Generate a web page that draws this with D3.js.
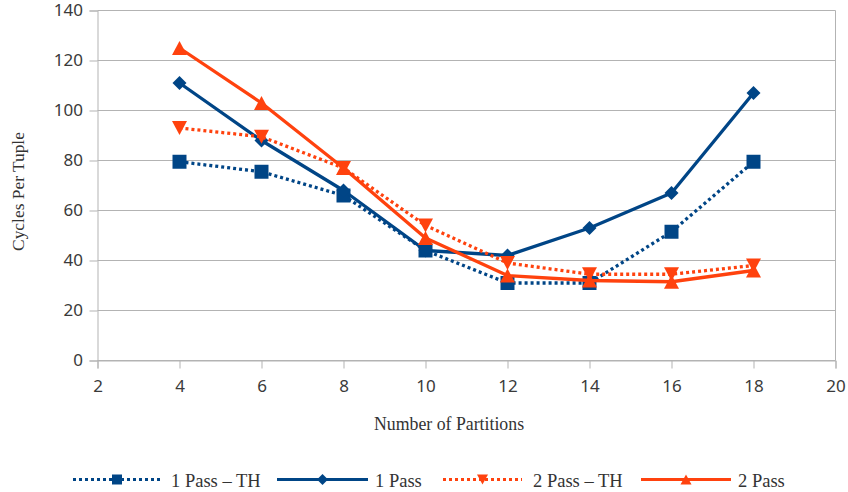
<!DOCTYPE html>
<html>
<head>
<meta charset="utf-8">
<script src="https://cdn.jsdelivr.net/npm/d3@7"></script>
<style>
  html, body { margin: 0; padding: 0; background: #fff; }
  svg { display: block; }
</style>
</head>
<body>
<svg id="chart" width="848" height="492"></svg>
<script>
// Partition counts on the x axis
const partitions = [4, 6, 8, 10, 12, 14, 16, 18];

// Cycles per tuple for each configuration
const onePassTH = [79.5, 75.5, 66, 44, 31, 31, 51.5, 79.5];
const onePass   = [111, 88, 68, 44, 42, 53, 67, 107];
const twoPassTH = [93, 89.5, 77, 54, 39, 34.5, 34.5, 38];
const twoPass   = [125, 103, 77, 49, 34, 32, 31.5, 36];

const xTicks = [2, 4, 6, 8, 10, 12, 14, 16, 18, 20];
const yTicks = [0, 20, 40, 60, 80, 100, 120, 140];

const seriesNames = ["1 Pass – TH", "1 Pass", "2 Pass – TH", "2 Pass"];

const BLUE = "#004586", ORANGE = "#ff420e";

const series = [
  { name: seriesNames[0], values: onePassTH, color: BLUE,   dashed: true,  marker: "square" },
  { name: seriesNames[1], values: onePass,   color: BLUE,   dashed: false, marker: "diamond" },
  { name: seriesNames[2], values: twoPassTH, color: ORANGE, dashed: true,  marker: "down" },
  { name: seriesNames[3], values: twoPass,   color: ORANGE, dashed: false, marker: "up" }
];

const svg = d3.select("#chart");
const plotLeft = 97.5, plotRight = 835.5, plotTop = 10.5, plotBottom = 360.5;

const x = d3.scaleLinear().domain([2, 20]).range([plotLeft, plotRight]);
const y = d3.scaleLinear().domain([0, 140]).range([plotBottom, plotTop]);

const GRID = "#b3b3b3";
const TICK_FONT = "'Noto Sans', sans-serif";
const SERIF = "'Liberation Serif', serif";

// Horizontal gridlines
svg.append("g").selectAll("line").data(yTicks).join("line")
  .attr("x1", plotLeft).attr("x2", plotRight)
  .attr("y1", d => y(d)).attr("y2", d => y(d))
  .attr("stroke", GRID).attr("stroke-width", 1);

// Right frame edge
svg.append("line").attr("x1", plotRight).attr("x2", plotRight)
  .attr("y1", plotTop).attr("y2", plotBottom).attr("stroke", GRID);

// Y axis
const yAxis = svg.append("g").attr("transform", `translate(${plotLeft},0)`)
  .call(d3.axisLeft(y).tickValues(yTicks).tickSize(8).tickPadding(6.5));
yAxis.select(".domain").attr("stroke", GRID);
yAxis.selectAll(".tick line").attr("stroke", GRID);
yAxis.selectAll(".tick text").attr("fill", "#3a3a3a").style("font-family", TICK_FONT).style("font-size", "17px");

// X axis
const xAxis = svg.append("g").attr("transform", `translate(0,${plotBottom})`)
  .call(d3.axisBottom(x).tickValues(xTicks).tickSize(8).tickPadding(11));
xAxis.select(".domain").attr("stroke", GRID);
xAxis.selectAll(".tick line").attr("stroke", GRID);
xAxis.selectAll(".tick text").attr("fill", "#3a3a3a").style("font-family", TICK_FONT).style("font-size", "17px");

// Axis titles
svg.append("text")
  .attr("transform", `translate(24,191.5) rotate(-90)`)
  .attr("text-anchor", "middle")
  .style("font-family", SERIF).style("font-size", "17.4px").attr("fill", "#333")
  .text("Cycles Per Tuple");

svg.append("text")
  .attr("x", 449).attr("y", 430)
  .attr("text-anchor", "middle")
  .style("font-family", SERIF).style("font-size", "17.8px").attr("fill", "#333")
  .text("Number of Partitions");

// Marker shapes
function markerPath(kind, s) {
  const h = s / 2;
  switch (kind) {
    case "square":  return `M${-h},${-h}H${h}V${h}H${-h}Z`;
    case "diamond": return `M0,${-h}L${h},0L0,${h}L${-h},0Z`;
    case "down":    return `M${-h - 0.5},${-h}L${h + 0.5},${-h}L0,${h}Z`;
    case "up":      return `M0,${-h}L${h + 0.5},${h}L${-h - 0.5},${h}Z`;
  }
}
const markerSize = { square: 14, diamond: 14, down: 14, up: 14 };

const line = d3.line().x(d => x(d[0])).y(d => y(d[1]));

series.forEach(s => {
  const pts = partitions.map((p, i) => [p, s.values[i]]);
  const g = svg.append("g");
  g.append("path").datum(pts)
    .attr("d", line)
    .attr("fill", "none")
    .attr("stroke", s.color)
    .attr("stroke-width", 3.3)
    .attr("stroke-linejoin", "round")
    .attr("stroke-dasharray", s.dashed ? "3,3" : null);
  g.selectAll("path.m").data(pts).join("path").attr("class", "m")
    .attr("transform", d => `translate(${x(d[0])},${y(d[1])})`)
    .attr("d", markerPath(s.marker, markerSize[s.marker]))
    .attr("fill", s.color);
});

// Legend
const legendItems = [
  { x1: 73, x2: 161, tx: 171 },
  { x1: 277, x2: 368, tx: 375 },
  { x1: 443, x2: 522, tx: 533 },
  { x1: 641, x2: 731, tx: 738 }
];
const ly = 479.5;
series.forEach((s, i) => {
  const L = legendItems[i];
  const g = svg.append("g");
  g.append("line")
    .attr("x1", L.x1).attr("x2", L.x2).attr("y1", ly).attr("y2", ly)
    .attr("stroke", s.color).attr("stroke-width", 3)
    .attr("stroke-dasharray", s.dashed ? "3,3" : null);
  g.append("path")
    .attr("transform", `translate(${(L.x1 + L.x2) / 2},${ly})`)
    .attr("d", markerPath(s.marker, s.marker === "diamond" ? 11 : 10))
    .attr("fill", s.color);
  g.append("text")
    .attr("x", L.tx).attr("y", 487)
    .style("font-family", SERIF).style("font-size", "18.5px").attr("fill", "#333")
    .text(s.name);
});
</script>
</body>
</html>
